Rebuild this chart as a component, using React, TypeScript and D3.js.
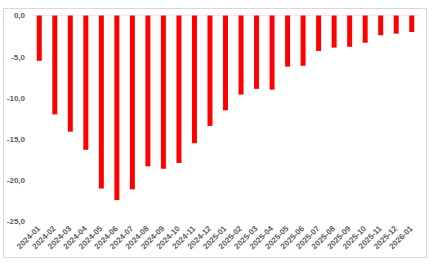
import React from "react";
import * as d3 from "d3";

const categories = [
  "2024-01","2024-02","2024-03","2024-04","2024-05","2024-06","2024-07","2024-08","2024-09","2024-10","2024-11","2024-12",
  "2025-01","2025-02","2025-03","2025-04","2025-05","2025-06","2025-07","2025-08","2025-09","2025-10","2025-11","2025-12","2026-01",
];
const values = [
  -5.5, -12.0, -14.1, -16.3, -21.0, -22.4, -21.1, -18.3, -18.6, -17.9, -15.5, -13.4,
  -11.5, -9.6, -8.9, -9.0, -6.2, -6.1, -4.3, -3.9, -3.8, -3.3, -2.4, -2.2, -2.0,
];
const yTicks = [0, -5, -10, -15, -20, -25];

export default function App() {
  const W = 434, H = 268;
  const left = 31.5, right = 419.5, top = 15.5, bottom = 221.5;
  const x = d3.scaleBand().domain(categories).range([left, right]).paddingInner(0.68).paddingOuter(0.34);
  const y = d3.scaleLinear().domain([0, -25]).range([top, bottom]);
  const fmt = (v: number) => v.toFixed(1).replace(".", ",");
  const font = "'Liberation Sans', Arial, sans-serif";
  return (
    <svg width={W} height={H} style={{ position: "absolute", left: 0, top: 0 }}>
      <rect x={0} y={0} width={W} height={H} fill="#fff" />
      <rect x={3.5} y={8.5} width={423} height={249} fill="#fff" stroke="#d9d9d9" strokeWidth={1} />
      <line x1={left} x2={right} y1={y(0)} y2={y(0)} stroke="#ececec" strokeWidth={1.5} />
      {yTicks.map((t) => (
        <text key={t} x={25} y={y(t)} dy="0.35em" textAnchor="end" fontFamily={font} fontSize={8} fontWeight="bold" fill="#606060">
          {fmt(t)}
        </text>
      ))}
      {categories.map((c, i) => (
        <rect key={c} x={x(c)} y={y(0)} width={x.bandwidth()} height={y(values[i]) - y(0)} fill="#ff0000" />
      ))}
      {categories.map((c) => {
        const cx = (x(c) as number) + x.bandwidth() / 2 + 1.5;
        const cy = 229;
        return (
          <text key={c} x={cx} y={cy} textAnchor="end" transform={`rotate(-45 ${cx} ${cy})`} fontFamily={font} fontSize={8} fontWeight="bold" fill="#606060">
            {c}
          </text>
        );
      })}
    </svg>
  );
}
